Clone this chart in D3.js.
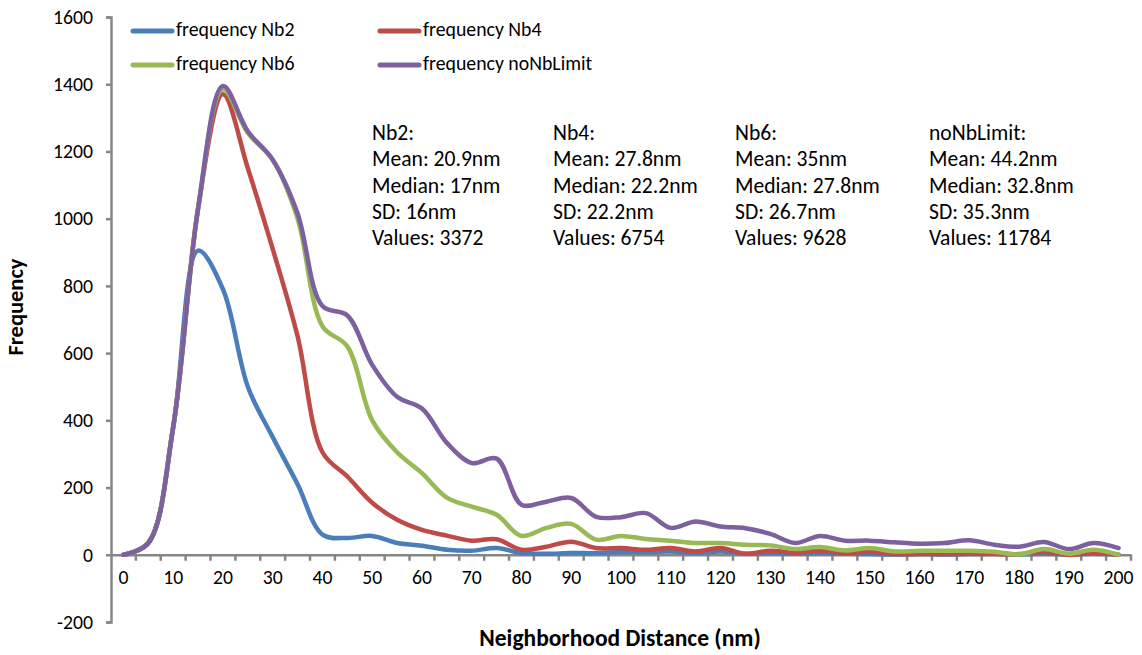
<!DOCTYPE html>
<html>
<head>
<meta charset="utf-8">
<script src="https://cdn.jsdelivr.net/npm/d3@7"></script>
<style>
  body { margin: 0; background: #fff; }
  text { font-family: Carlito, Calibri, "Noto Sans", sans-serif; fill: #000; }
</style>
</head>
<body>
<div id="chart"></div>
<script>
// x categories (nm), one every 5
var categories = [0, 5, 10, 15, 20, 25, 30, 35, 40, 45, 50, 55, 60, 65, 70, 75, 80, 85, 90, 95, 100,
  105, 110, 115, 120, 125, 130, 135, 140, 145, 150, 155, 160, 165, 170, 175, 180, 185, 190, 195, 200]

var nb2 = [0, 35, 380, 905, 790, 500, 350, 210, 60, 50, 56, 35, 27, 15, 12, 20, 5, 3, 5, 5, 8,
  8, 10, 5, 10, 3, 5, 3, 5, 3, 2, 1, 2, 1, 2, 3, 1, 3, 1, 3, 0]

var nb4 = [0, 35, 380, 1030, 1370, 1150, 910, 650, 305, 233, 155, 104, 74, 57, 42, 46, 15, 24, 39, 20, 20,
  15, 20, 10, 20, 3, 12, 6, 12, 5, 9, 2, 2, 2, 3, 2, 2, 8, 0, 5, 0]

var nb6 = [0, 35, 380, 1030, 1385, 1255, 1175, 1000, 680, 620, 400, 305, 243, 170, 143, 119, 56, 80, 92, 45, 56,
  47, 42, 35, 35, 30, 28, 17, 23, 13, 20, 10, 12, 12, 12, 9, 1, 17, 3, 15, 0]

var noNbLimit = [0, 35, 380, 1030, 1395, 1260, 1175, 1015, 740, 712, 565, 470, 435, 333, 273, 286, 149, 158, 169, 113, 112,
  124, 80, 99, 84, 79, 62, 35, 56, 42, 42, 37, 33, 35, 43, 30, 24, 38, 17, 35, 20]

var yTicks = [-200, 0, 200, 400, 600, 800, 1000, 1200, 1400, 1600]
var xLabels = [0, 10, 20, 30, 40, 50, 60, 70, 80, 90, 100, 110, 120, 130, 140, 150, 160, 170, 180, 190, 200]

var seriesNames = ["frequency Nb2", "frequency Nb4", "frequency Nb6", "frequency noNbLimit"]
var seriesColors = ["#4a7ebb", "#be4b48", "#98b954", "#7d60a0"]

var statNames = ["Nb2:", "Nb4:", "Nb6:", "noNbLimit:"]
var statMean = ["20.9nm", "27.8nm", "35nm", "44.2nm"]
var statMedian = ["17nm", "22.2nm", "27.8nm", "32.8nm"]
var statSD = ["16nm", "22.2nm", "26.7nm", "35.3nm"]
var statValues = ["3372", "6754", "9628", "11784"]

var W = 1142, H = 655
var axisColor = "#868686"

var svg = d3.select("#chart").append("svg")
  .attr("width", W)
  .attr("height", H)

var x = d3.scaleBand()
  .domain(categories)
  .range([111, 1131])

var y = d3.scaleLinear()
  .domain([-200, 1600])
  .range([622, 17])

var cx = function(c) { return x(c) + x.bandwidth() / 2 }

// y axis (plain hyphen for negatives, like excel)
var yAxis = svg.append("g")
  .attr("transform", "translate(111,0)")
  .call(d3.axisLeft(y).tickValues(yTicks).tickSize(5).tickPadding(13)
    .tickFormat(function(d) { return d < 0 ? "-" + Math.abs(d) : "" + d }))
yAxis.select(".domain").attr("stroke", axisColor).attr("stroke-width", 2.5)
yAxis.selectAll(".tick line").attr("stroke", axisColor).attr("stroke-width", 2.5)
yAxis.selectAll(".tick text").style("font-size", "19.7px").attr("fill", "#000")

// x axis sits on zero
var xAxis = svg.append("g")
  .attr("transform", "translate(0," + y(0) + ")")
  .call(d3.axisBottom(x).tickValues(xLabels).tickSize(0).tickPadding(15))
xAxis.select(".domain").attr("stroke", axisColor).attr("stroke-width", 2.5)
xAxis.selectAll(".tick text").style("font-size", "19.7px").attr("fill", "#000")

// tick marks between categories, excel style
var bounds = categories.map(function(c) { return x(c) }).concat([x.range()[1]])
svg.append("g")
  .selectAll("line")
  .data(bounds.slice(1))
  .enter()
  .append("line")
    .attr("x1", function(d) { return d })
    .attr("x2", function(d) { return d })
    .attr("y1", y(0))
    .attr("y2", y(0) + 6)
    .attr("stroke", axisColor)
    .attr("stroke-width", 2.5)

// series lines
var allSeries = [nb2, nb4, nb6, noNbLimit]
var line = d3.line()
  .x(function(d, i) { return cx(categories[i]) })
  .y(function(d) { return y(d) })
  .curve(d3.curveCatmullRom.alpha(0.5))

allSeries.forEach(function(s, i) {
  svg.append("path")
    .datum(s)
    .attr("fill", "none")
    .attr("stroke", seriesColors[i])
    .attr("stroke-width", 4.5)
    .attr("stroke-linejoin", "round")
    .attr("stroke-linecap", "round")
    .attr("d", line)
})

// legend, 2 x 2
var legendPos = [[133, 31], [380, 31], [133, 65], [380, 65]]
seriesNames.forEach(function(name, i) {
  var p = legendPos[i]
  svg.append("line")
    .attr("x1", p[0]).attr("x2", p[0] + 39)
    .attr("y1", p[1]).attr("y2", p[1])
    .attr("stroke", seriesColors[i])
    .attr("stroke-width", 5)
    .attr("stroke-linecap", "round")
  svg.append("text")
    .attr("x", p[0] + 43)
    .attr("y", p[1])
    .attr("dominant-baseline", "middle")
    .style("font-size", "19.8px")
    .text(name)
})

// stats annotations
var statX = [372, 553, 735, 929]
statNames.forEach(function(n, i) {
  var lines = [n, "Mean: " + statMean[i], "Median: " + statMedian[i], "SD: " + statSD[i], "Values: " + statValues[i]]
  var t = svg.append("text")
    .attr("x", statX[i])
    .attr("y", 135)
    .attr("dominant-baseline", "middle")
    .style("font-size", "21.6px")
  lines.forEach(function(l, k) {
    t.append("tspan")
      .attr("x", statX[i])
      .attr("y", 135 + k * 26.3)
      .text(l)
  })
})

// axis titles
svg.append("text")
  .attr("transform", "translate(18," + 307 + ") rotate(-90)")
  .attr("text-anchor", "middle")
  .attr("dominant-baseline", "middle")
  .style("font-size", "22.5px")
  .style("font-weight", "bold")
  .text("Frequency")

svg.append("text")
  .attr("x", 620)
  .attr("y", 640)
  .attr("text-anchor", "middle")
  .attr("dominant-baseline", "middle")
  .style("font-size", "23.5px")
  .style("font-weight", "bold")
  .text("Neighborhood Distance (nm)")
</script>
</body>
</html>
